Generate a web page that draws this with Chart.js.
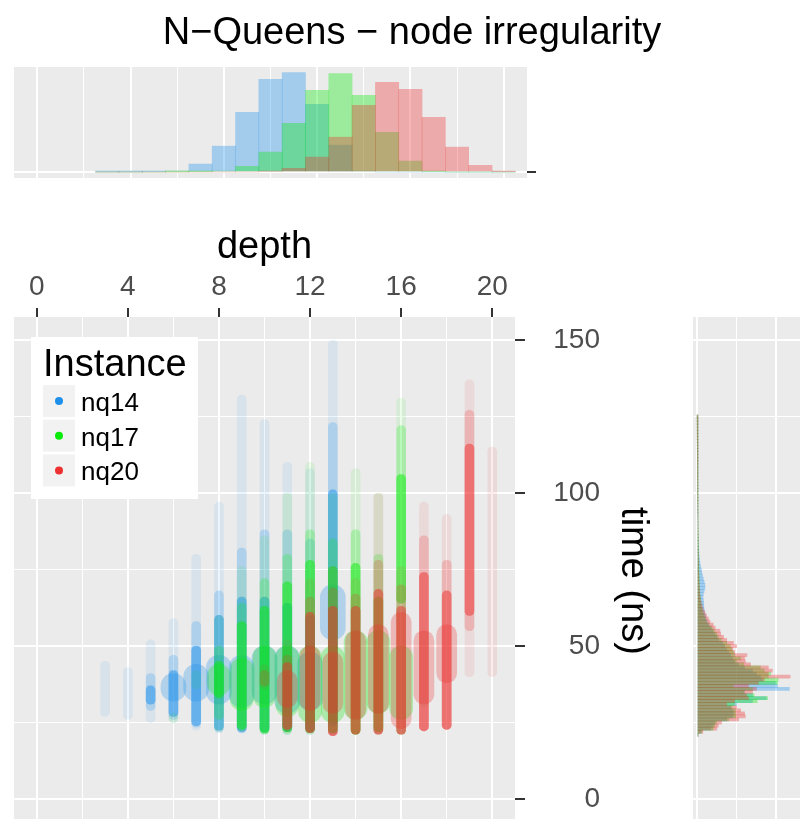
<!DOCTYPE html>
<html>
<head>
<meta charset="utf-8">
<script src="https://cdn.jsdelivr.net/npm/chart.js@4.4.0/dist/chart.umd.min.js"></script>
<style>
  html, body { margin: 0; padding: 0; background: #fff; overflow: hidden; }
  body { width: 800px; height: 819px; position: relative; }
  canvas { position: absolute; display: block; }
</style>
</head>
<body>
<canvas id="topHist" width="800" height="190" style="left:0;top:0"></canvas>
<canvas id="scatter" width="680" height="645" style="left:0;top:200px"></canvas>
<canvas id="sideHist" width="140" height="645" style="left:680px;top:200px"></canvas>
<script>
/*----------------------------------------------------------------*/
// data
const instances = ['nq14', 'nq17', 'nq20'];

const depths = [3, 4, 5, 6, 7, 8, 9, 10, 11, 12, 13, 14, 15, 16, 17, 18, 19, 20];
const depthGrid = [0, 2, 4, 6, 8, 10, 12, 14, 16, 18, 20];
const depthLabels = [0, 4, 8, 12, 16, 20];
const timeGrid = [0, 25, 50, 75, 100, 125, 150];
const timeLabels = [0, 50, 100, 150];

// top histogram: relative node counts per depth
const nq14Depth = [0.05, 0.1, 0.3, 1, 8, 26, 60, 93, 100, 68, 27, 1, 0, 0, 0, 0, 0, 0];
const nq17Depth = [0, 0, 0, 0.1, 0.3, 1, 5.7, 20, 49, 82, 99, 77, 40, 11, 0.5, 0, 0, 0];
const nq20Depth = [0, 0, 0, 0, 0, 0, 0, 0.7, 3.7, 15, 35, 67, 90, 83, 55, 25, 6.7, 0.3];

// scatter: time ranges (ns) of each streak, per depth (d3 .. d20)
const nq14Tail = [[27, 45], [26, 43], [25, 52], [25, 59], [22.5, 80], [21.5, 97], [21.5, 132], [21, 124], [21, 110], [21, 108], [21, 150], [28, 62], null, null, null, null, null, null];
const nq14Mid  = [null, null, [29, 41], [26, 47], [23.5, 58], [22, 68], [21.7, 82], [21.5, 88], [22, 88], [22, 85], [22, 123], null, null, null, null, null, null, null];
const nq14Core = [null, null, [31, 37], [27, 42], [24, 50], [22.5, 60], [22, 66], [22, 66], [22, 64], [22, 60], [24, 101], null, null, null, null, null, null, null];
const nq14Halo = [null, null, null, [32, 41], [32, 44], [31, 47], [30, 47], [31, 50], [28, 50], [29, 48], [52, 70], null, null, null, null, null, null, null];

const nq17Tail = [null, null, null, [25, 28], [36, 42], [22, 60], [22, 76], [21.2, 86], [21, 100], [21, 110], [21, 100], [21, 108], [21, 100], [21, 131], [30, 55], null, null, null];
const nq17Mid  = [null, null, null, null, null, [26, 50], [22.5, 64], [21.5, 72], [21.5, 80], [21.5, 88], [21.5, 85], [21.2, 88], [21.5, 80], [21.2, 122], null, null, null, null];
const nq17Core = [null, null, null, null, null, [33, 45], [22.8, 58], [21.5, 63], [22, 71], [21.7, 78], [21.5, 76], [21.2, 77], [22, 66], [64, 106], null, null, null, null];
const nq17Halo = [null, null, null, null, null, [34, 44], [29, 46], [30, 50], [27, 50], [25, 50], [25, 50], [26, 55], [28, 55], [26, 50], null, null, null, null];

const nq20Tail = [null, null, null, null, null, null, null, [36, 44], [22, 52], [21.5, 72], [20.7, 76], [21.2, 72], [21.2, 100], [21.2, 76], [22.3, 97], [22.8, 93], [40, 137], [40, 115]];
const nq20Mid  = [null, null, null, null, null, null, null, [37, 42], [22.5, 47], [21.7, 66], [20.7, 69], [21.2, 67], [21.2, 78], [21.2, 70], [22.3, 86], [22.8, 78], [55, 127], null];
const nq20Core = [null, null, null, null, null, null, null, null, [22.8, 44.6], [21.7, 61], [20.7, 63], [21.2, 63], [21.2, 68.5], [21.2, 63], [22.3, 74], [22.8, 68], [60, 116], null];
const nq20Halo = [null, null, null, null, null, null, null, null, [30, 42], [29, 50], [28, 48], [26, 55], [28, 57], [23, 61], [31, 55], [38, 57], null, null];

// side histogram: 1 ns bins starting at 21 ns
const timeBins = Array.from({ length: 105 }, (_, i) => 21 + i);
const nq14Time = [
    0.2, 1, 3.5, 4, 4.5, 7.5, 9, 9.2, 9, 8.5,
    10, 14, 17.5, 14, 12, 23.3, 20.3, 20, 16.5, 16,
    15, 14, 12, 10.5, 9.5, 9, 8.5, 8, 7.5, 7,
    6.5, 5.5, 5, 4.5, 4, 3.5, 3, 2.6, 2.3, 2.1,
    1.9, 1.8, 1.7, 1.7, 1.6, 1.5, 1.6, 1.8, 2, 2,
    1.8, 1.6, 1.4, 1.2, 1.1, 0.9, 0.75, 0.65, 0.55, 0.5,
    0.45, 0.4, 0.38, 0.35, 0.32, 0.3, 0.28, 0.26, 0.25, 0.24,
    0.22, 0.2, 0.2, 0.18, 0.18, 0.16, 0.16, 0.15, 0.15, 0.14,
    0.14, 0.13, 0.13, 0.12, 0.12, 0.11, 0.11, 0.1, 0.1, 0.1,
    0.09, 0.09, 0.08, 0.08, 0.08, 0.07, 0.07, 0.06, 0.06, 0.05,
    0.05, 0.05, 0.04, 0.04, 0.04
];
const nq17Time = [
    0.3, 1.2, 4.1, 4.5, 5, 8, 9.8, 9.7, 9.7, 8.8,
    9.5, 15.2, 17.8, 14.4, 11.8, 14, 9.2, 20.3, 20.5, 18,
    18.6, 17, 16, 11.8, 10, 11, 9.5, 9.2, 8.8, 8.4,
    7.5, 6.2, 5.4, 5, 4.4, 3.8, 3, 2.4, 2.1, 1.8,
    1.5, 1.3, 1.1, 1, 0.9, 0.8, 0.7, 0.7, 0.65, 0.6,
    0.6, 0.55, 0.55, 0.5, 0.5, 0.5, 0.45, 0.45, 0.45, 0.4,
    0.4, 0.38, 0.36, 0.35, 0.34, 0.32, 0.3, 0.3, 0.28, 0.26,
    0.25, 0.24, 0.22, 0.2, 0.2, 0.18, 0.17, 0.16, 0.15, 0.15,
    0.14, 0.14, 0.13, 0.13, 0.12, 0.12, 0.12, 0.11, 0.11, 0.1,
    0.1, 0.09, 0.09, 0.08, 0.08, 0.07, 0.07, 0.06, 0.06, 0.05,
    0.05, 0.04, 0.04, 0.03, 0.03
];
const nq20Time = [
    0.3, 1.5, 5, 5.4, 6.2, 10.5, 12.2, 12, 11, 10,
    7.5, 9.5, 13, 12.5, 14, 15, 13, 15.5, 17, 23.5,
    18, 19, 18, 13.5, 12.2, 12, 12.6, 9.5, 9, 10,
    9.2, 7.5, 6.7, 6, 5.8, 4.6, 4.1, 3.3, 2.9, 2.4,
    2, 1.6, 1.3, 1.1, 0.9, 0.8, 0.7, 0.65, 0.6, 0.55,
    0.5, 0.5, 0.45, 0.45, 0.4, 0.4, 0.4, 0.35, 0.35, 0.35,
    0.3, 0.3, 0.3, 0.3, 0.28, 0.28, 0.26, 0.26, 0.25, 0.25,
    0.24, 0.24, 0.22, 0.22, 0.2, 0.2, 0.2, 0.18, 0.18, 0.18,
    0.16, 0.16, 0.15, 0.15, 0.14, 0.14, 0.13, 0.12, 0.12, 0.11,
    0.1, 0.1, 0.09, 0.09, 0.08, 0.08, 0.06, 0.05, 0.05, 0.04,
    0.04, 0.03, 0.03, 0.02, 0.02
];

/*----------------------------------------------------------------*/
Chart.defaults.font.family = "'Liberation Sans', Arial, Helvetica, sans-serif";
Chart.defaults.animation = false;
Chart.defaults.plugins.legend.display = false;
Chart.defaults.plugins.tooltip.enabled = false;

const colors = [[30, 144, 235], [10, 235, 10], [238, 48, 48]];
const rgba = (c, a) => 'rgba(' + c[0] + ',' + c[1] + ',' + c[2] + ',' + a + ')';

const depthCounts = [nq14Depth, nq17Depth, nq20Depth];
const timeCounts = [nq14Time, nq17Time, nq20Time];
const streaks = [
    [nq14Halo, nq14Tail, nq14Mid, nq14Core],
    [nq17Halo, nq17Tail, nq17Mid, nq17Core],
    [nq20Halo, nq20Tail, nq20Mid, nq20Core]
];
// halo width per instance, then tail / mid / core
const haloWidth = [25, 23, 20];
const layerStyle = [
    { width: null, alpha: 0.28 },
    { width: 9, alpha: 0.09 },
    { width: 9, alpha: 0.22 },
    { width: 9, alpha: 0.5 }
];

const panelBg = {
    id: "panelBg",
    beforeDraw(chart) {
        const { ctx, chartArea: a } = chart;
        ctx.save();
        ctx.fillStyle = "#ebebeb";
        ctx.fillRect(a.left, a.top, a.right - a.left, a.bottom - a.top);
        ctx.restore();
    }
};

function gridOpts(majors, tickLength) {
    return {
        color: '#ffffff',
        lineWidth: c => majors.includes(c.tick.value) ? 2 : 1,
        tickColor: c => majors.includes(c.tick.value) ? '#333333' : 'rgba(0,0,0,0)',
        tickWidth: 2,
        tickLength: tickLength,
        drawTicks: tickLength > 0,
        offset: false
    };
}

// fixed axis sizes, no extra label padding
function fixSize(w, h) {
    return s => {
        if (w !== null) s.width = w;
        if (h !== null) s.height = h;
        s.paddingTop = 0; s.paddingBottom = 0; s.paddingLeft = 0; s.paddingRight = 0;
    };
}

/*----------------------------------------------------------------*/
const plotTitle = {
    id: "plotTitle",
    afterDraw(chart) {
        const ctx = chart.ctx;
        ctx.save();
        ctx.font = "38px 'Liberation Sans', Arial, sans-serif";
        ctx.fillStyle = "#000";
        ctx.textAlign = "center";
        ctx.textBaseline = "alphabetic";
        ctx.fillText("N\u2212Queens \u2212 node irregularity", 412, 44);
        ctx.restore();
    }
};

new Chart(document.getElementById("topHist"), {
    type: 'bar',
    data: {
        datasets: instances.map((name, i) => ({
            label: name,
            data: depths.map((d, j) => ({ x: d, y: depthCounts[i][j] })),
            backgroundColor: rgba(colors[i], 0.35),
            borderWidth: 0,
            barThickness: 23.3,
            grouped: false,
            order: 3 - i
        }))
    },
    options: {
        responsive: false,
        layout: { padding: { left: 14, top: 67, right: 0, bottom: 12 } },
        scales: {
            x: {
                type: 'linear', min: -1, max: 21, offset: false,
                afterBuildTicks: s => { s.ticks = depthGrid.map(v => ({ value: v })); },
                afterFit: fixSize(null, 0),
                ticks: { display: false },
                grid: gridOpts(depthLabels, 0),
                border: { display: false }
            },
            y: {
                type: 'linear', position: 'right', min: -6, max: 105.5,
                afterBuildTicks: s => { s.ticks = [{ value: 0 }]; },
                afterFit: fixSize(273, null),
                ticks: { display: false },
                grid: gridOpts([0], 9),
                border: { display: false }
            }
        }
    },
    plugins: [panelBg, plotTitle]
});

/*----------------------------------------------------------------*/
const instanceLegend = {
    id: "instanceLegend",
    afterDraw(chart) {
        const ctx = chart.ctx;
        ctx.save();
        ctx.fillStyle = "#fff";
        ctx.fillRect(31, 137, 167, 162);
        ctx.fillStyle = "#000";
        ctx.textBaseline = "alphabetic";
        ctx.textAlign = "left";
        ctx.font = "38px 'Liberation Sans', Arial, sans-serif";
        ctx.fillText("Instance", 43, 176);
        instances.forEach((name, i) => {
            const y = 185 + i * 34.7;
            ctx.fillStyle = "#f2f2f2";
            ctx.fillRect(43, y, 32, 32);
            ctx.fillStyle = rgba(colors[i], 1);
            ctx.beginPath();
            ctx.arc(59, y + 16, 4, 0, Math.PI * 2);
            ctx.fill();
            ctx.fillStyle = "#000";
            ctx.font = "26px 'Liberation Sans', Arial, sans-serif";
            ctx.fillText(name, 81, y + 26);
        });
        ctx.restore();
    }
};

const scatterSets = [];
streaks.forEach((layers, i) => {
    layers.forEach((ranges, k) => {
        const w = layerStyle[k].width || haloWidth[i];
        scatterSets.push({
            label: instances[i],
            data: depths.map((d, j) => ranges[j] ? { x: d, y: ranges[j] } : null).filter(p => p),
            backgroundColor: rgba(colors[i], layerStyle[k].alpha),
            borderWidth: 0,
            barThickness: w,
            borderRadius: w / 2,
            borderSkipped: false,
            grouped: false,
            order: 100 - (i * 4 + k)
        });
    });
});

new Chart(document.getElementById("scatter"), {
    type: 'bar',
    data: { datasets: scatterSets },
    options: {
        responsive: false,
        layout: { padding: { left: 14, top: 0, right: 0, bottom: 0 } },
        scales: {
            x: {
                type: 'linear', position: 'top', min: -1, max: 21, offset: false,
                afterBuildTicks: s => { s.ticks = depthGrid.map(v => ({ value: v })); },
                afterFit: fixSize(null, 117),
                ticks: {
                    color: '#4d4d4d', font: { size: 28 }, padding: 4,
                    autoSkip: false, maxRotation: 0,
                    callback: v => depthLabels.includes(v) ? String(v) : ''
                },
                grid: gridOpts(depthLabels, 9),
                border: { display: false },
                title: { display: true, text: 'depth', color: '#000', font: { size: 38 }, padding: { top: 25, bottom: 0 } }
            },
            y: {
                type: 'linear', position: 'right', weight: 0, min: -15, max: 157.5,
                afterBuildTicks: s => { s.ticks = timeGrid.map(v => ({ value: v })); },
                afterFit: fixSize(85, null),
                ticks: {
                    color: '#4d4d4d', font: { size: 28 }, padding: 10, crossAlign: 'far',
                    autoSkip: false,
                    callback: v => timeLabels.includes(v) ? String(v) : ''
                },
                grid: gridOpts(timeLabels, 10),
                border: { display: false }
            },
            yTitle: {
                type: 'linear', position: 'right', weight: 1,
                afterFit: fixSize(80, null),
                ticks: { display: false },
                grid: { display: false },
                border: { display: false },
                title: { display: true, text: 'time (ns)', color: '#000', font: { size: 38 }, padding: { top: 25, bottom: 0 } }
            }
        }
    },
    plugins: [panelBg, instanceLegend]
});

/*----------------------------------------------------------------*/
new Chart(document.getElementById("sideHist"), {
    type: 'bar',
    data: {
        datasets: instances.map((name, i) => ({
            label: name,
            data: timeBins.map((t, j) => ({ x: timeCounts[i][j], y: t })),
            backgroundColor: rgba(colors[i], 0.35),
            borderWidth: 0,
            barThickness: 3.06,
            grouped: false,
            order: 3 - i
        }))
    },
    options: {
        responsive: false,
        indexAxis: 'y',
        layout: { padding: { left: 13, top: 117, right: 14, bottom: 0 } },
        scales: {
            x: {
                type: 'linear', min: -1, max: 27.5, offset: false,
                afterBuildTicks: s => { s.ticks = [0, 10, 20].map(v => ({ value: v })); },
                afterFit: fixSize(null, 0),
                ticks: { display: false },
                grid: gridOpts([0, 20], 0),
                border: { display: false }
            },
            y: {
                type: 'linear', min: -15, max: 157.5, offset: false,
                afterBuildTicks: s => { s.ticks = timeGrid.map(v => ({ value: v })); },
                afterFit: fixSize(0, null),
                ticks: { display: false },
                grid: gridOpts(timeLabels, 0),
                border: { display: false }
            }
        }
    },
    plugins: [panelBg]
});
</script>
</body>
</html>
